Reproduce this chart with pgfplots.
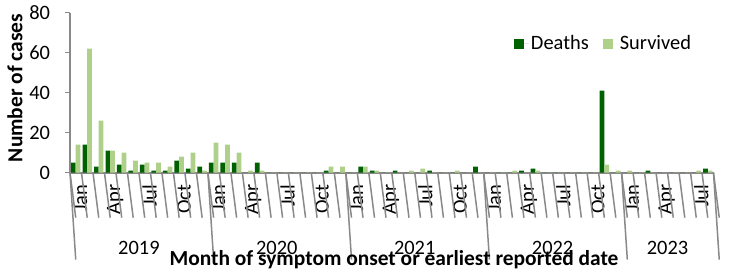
\documentclass[border=0pt]{standalone}
\usepackage{pgfplots}
\pgfplotsset{compat=1.18}
\usepackage{fontspec}
\setmainfont{Carlito}
\definecolor{deathgreen}{RGB}{0,97,0}
\definecolor{survgreen}{RGB}{174,208,136}
\definecolor{axgray}{RGB}{137,137,137}
\pgfplotstableread{
x D S
0 5 14
1 14 62
2 3 26
3 11 11
4 4 10
5 1 6
6 4 5
7 1 5
8 1 3
9 6 8
10 2 10
11 3 1
12 5 15
13 5 14
14 5 10
15 0 1
16 5 1
17 0 0
18 0 0
19 0 0
20 0 0
21 0 0
22 1 3
23 0 3
24 0 0
25 3 3
26 1 1
27 0 0
28 1 0
29 0 1
30 0 2
31 1 0
32 0 0
33 0 1
34 0 0
35 3 0
36 0 0
37 0 0
38 0 1
39 1 0
40 2 1
41 0 0
42 0 0
43 0 0
44 0 0
45 0 0
46 41 4
47 0 1
48 0 1
49 0 0
50 1 0
51 0 0
52 0 0
53 0 0
54 0 1
55 2 1
}\cases
\begin{document}
\fontsize{20.5}{24}\selectfont
\begin{tikzpicture}
\path[use as bounding box] (0,0) rectangle (739bp,275bp);
\begin{axis}[
  at={(70bp,102.3bp)}, anchor=south west,
  scale only axis, width=643.5bp, height=160bp,
  xmin=-0.5, xmax=55.5, ymin=0, ymax=80,
  axis x line*=bottom, axis y line*=left,
  axis line style={-, axgray, line width=1.8bp},
  clip=false,
  ytick={0,20,40,60,80},
  tick align=outside,
  major tick length=5bp,
  ytick style={axgray, line width=1.2bp},
  xtick style={draw=none},
  /pgf/number format/assume math mode=true,
  yticklabel style={font=\fontsize{20.5}{24}\selectfont, xshift=-8bp},
  xtick={0,3,...,54},
  xticklabels={Jan,Apr,Jul,Oct,Jan,Apr,Jul,Oct,Jan,Apr,Jul,Oct,Jan,Apr,Jul,Oct,Jan,Apr,Jul},
  xticklabel style={rotate=90, anchor=east, font=\fontsize{20.5}{24}\selectfont, yshift=-5bp},
  ybar=0pt, bar width=0.41,
  legend style={at={(axis description cs:0.685,0.805)}, anchor=west, draw=none, fill=none,
    legend columns=2, font=\fontsize{20.5}{24}\selectfont,
    /tikz/every even column/.append style={column sep=12bp}},
  legend image code/.code={\fill[#1] (0bp,-5bp) rectangle (10bp,5bp); \path (0bp,0bp) -- (15bp,0bp);},
]
\addplot[fill=deathgreen, draw=none, bar shift=-0.205] table[x=x,y=D]{\cases};
\addlegendentry{Deaths}
\addplot[fill=survgreen, draw=none, bar shift=0.205] table[x=x,y=S]{\cases};
\addlegendentry{Survived}
\pgfplotsinvokeforeach{-0.5,0.5,...,55.5}{\draw[axgray, line width=1.5bp] (axis cs:#1,0) -- ++(0,-45bp);}
\pgfplotsinvokeforeach{-0.5,11.5,23.5,35.5,47.5,55.5}{\draw[axgray, line width=1.5bp] (axis cs:#1,0) -- ++(0,-87bp);}
\node at (axis cs:5.5,0) [yshift=-75bp] {2019};
\node at (axis cs:17.5,0) [yshift=-75bp] {2020};
\node at (axis cs:29.5,0) [yshift=-75bp] {2021};
\node at (axis cs:41.5,0) [yshift=-75bp] {2022};
\node at (axis cs:51.5,0) [yshift=-75bp] {2023};
\end{axis}
\node[font=\fontsize{21.5}{24}\bfseries\selectfont] at (394bp,15bp) {Month of symptom onset or earliest reported date};
\node[rotate=90, font=\fontsize{21.5}{24}\bfseries\selectfont] at (15bp,187bp) {Number of cases};
\end{tikzpicture}
\end{document}
